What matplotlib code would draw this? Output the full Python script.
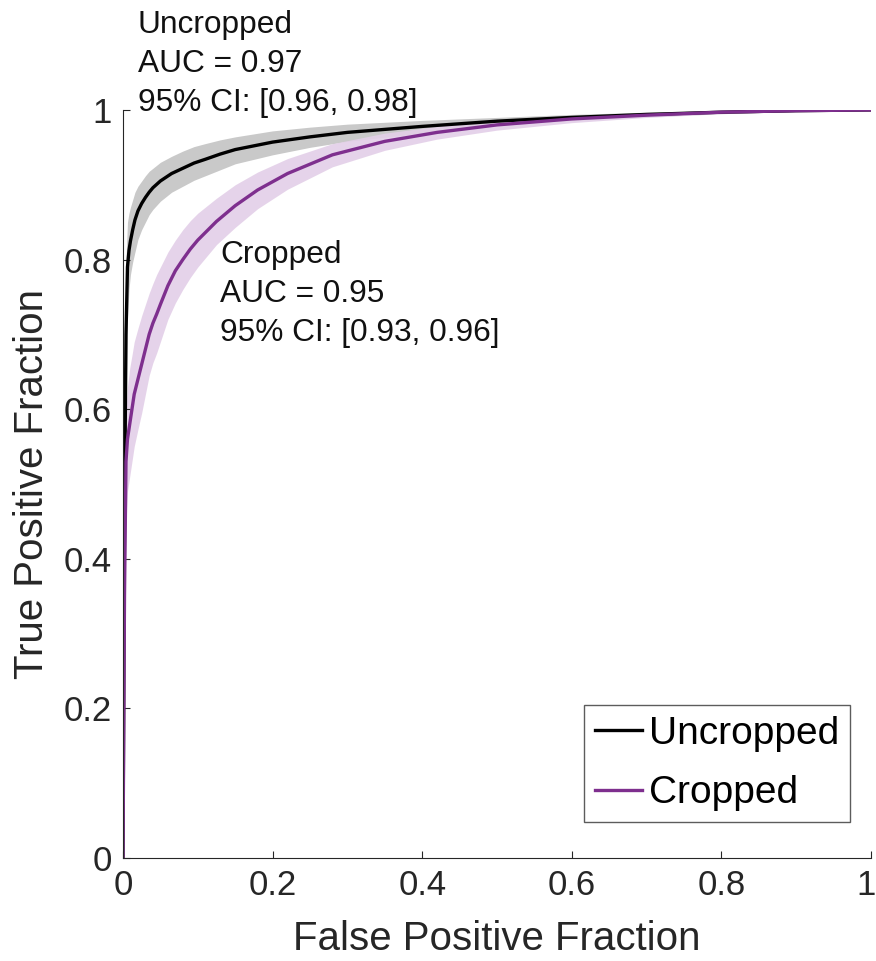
import numpy as np
import matplotlib
matplotlib.use('Agg')
import matplotlib.pyplot as plt
import matplotlib.transforms as mtransforms

plt.rcParams['font.family'] = ['Liberation Sans', 'DejaVu Sans']

# ROC curve for the uncropped images (mean curve and 95% band)
unc_fpr = [0, 0.002, 0.004, 0.006, 0.008, 0.01, 0.013, 0.016, 0.02, 0.025, 0.03, 0.035,
           0.04, 0.05, 0.065, 0.08, 0.095, 0.11, 0.13, 0.15, 0.175, 0.2, 0.25, 0.3, 0.4,
           0.5, 0.6, 0.7, 0.8, 0.9, 1.0]
unc_tpr = [0, 0.45, 0.70, 0.79, 0.812, 0.825, 0.84, 0.853, 0.865, 0.875, 0.883, 0.89,
           0.896, 0.905, 0.915, 0.922, 0.929, 0.934, 0.941, 0.947, 0.952, 0.957, 0.964,
           0.97, 0.978, 0.985, 0.99, 0.994, 0.997, 0.999, 1.0]
unc_hi = [0, 0.6, 0.8, 0.85, 0.862, 0.87, 0.88, 0.89, 0.898, 0.905, 0.912, 0.918,
          0.922, 0.93, 0.938, 0.945, 0.951, 0.955, 0.96, 0.964, 0.968, 0.972, 0.977,
          0.981, 0.986, 0.99, 0.994, 0.997, 0.999, 1.0, 1.0]
unc_lo = [0, 0.3, 0.6, 0.72, 0.76, 0.78, 0.797, 0.81, 0.827, 0.84, 0.85, 0.86,
          0.867, 0.878, 0.89, 0.898, 0.906, 0.912, 0.92, 0.928, 0.934, 0.94, 0.95,
          0.958, 0.969, 0.979, 0.986, 0.991, 0.995, 0.998, 1.0]

# ROC curve for the cropped images
crp_fpr = [0, 0.002, 0.004, 0.006, 0.009, 0.012, 0.015, 0.02, 0.025, 0.03, 0.035, 0.04,
           0.045, 0.05, 0.06, 0.07, 0.08, 0.09, 0.1, 0.125, 0.15, 0.18, 0.22, 0.28, 0.35,
           0.42, 0.5, 0.6, 0.7, 0.8, 0.9, 1.0]
crp_tpr = [0, 0.35, 0.53, 0.56, 0.58, 0.60, 0.62, 0.64, 0.66, 0.68, 0.70, 0.715,
           0.727, 0.74, 0.765, 0.785, 0.80, 0.814, 0.826, 0.851, 0.872, 0.893, 0.915,
           0.94, 0.958, 0.97, 0.98, 0.988, 0.993, 0.997, 0.999, 1.0]
crp_hi = [0, 0.45, 0.6, 0.63, 0.655, 0.672, 0.69, 0.708, 0.725, 0.74, 0.755, 0.768,
          0.78, 0.79, 0.81, 0.826, 0.84, 0.852, 0.862, 0.882, 0.9, 0.917, 0.935,
          0.955, 0.969, 0.978, 0.986, 0.992, 0.996, 0.998, 1.0, 1.0]
crp_lo = [0, 0.25, 0.45, 0.49, 0.51, 0.53, 0.55, 0.573, 0.595, 0.62, 0.645, 0.662,
          0.675, 0.69, 0.72, 0.742, 0.76, 0.776, 0.79, 0.82, 0.843, 0.868, 0.894,
          0.924, 0.946, 0.961, 0.973, 0.983, 0.99, 0.995, 0.998, 1.0]

unc_text = ['Uncropped', 'AUC = 0.97', '95% CI: [0.96, 0.98]']
crp_text = ['Cropped', 'AUC = 0.95', '95% CI: [0.93, 0.96]']

ticks = [0, 0.2, 0.4, 0.6, 0.8, 1]
tick_labels = ['0', '0.2', '0.4', '0.6', '0.8', '1']

purple = '#7E2F8E'
dark = '#262626'

fig = plt.figure(figsize=(8.76, 9.61), dpi=100)
ax = fig.add_axes([0.1404, 0.1072, 0.8539, 0.7784])

ax.fill_between(unc_fpr, unc_lo, unc_hi, color='#c9c9c9', lw=0)
ax.fill_between(crp_fpr, crp_lo, crp_hi, color='#e3cfe8', lw=0, alpha=0.9)
l1, = ax.plot(unc_fpr, unc_tpr, color='black', lw=2.4, label='Uncropped')
l2, = ax.plot(crp_fpr, crp_tpr, color=purple, lw=2.4, label='Cropped')

ax.set_xlim(0, 1)
ax.set_ylim(0, 1)
ax.set_xticks(ticks)
ax.set_xticklabels(tick_labels)
ax.set_yticks(ticks)
ax.set_yticklabels(tick_labels)
ax.tick_params(direction='in', length=5, width=0.8, colors=dark, labelsize=25, pad=8)
for s in ['top', 'right']:
    ax.spines[s].set_visible(False)
for s in ['left', 'bottom']:
    ax.spines[s].set_color(dark)
    ax.spines[s].set_linewidth(0.8)

# last x tick label sits at the figure edge, nudge it in a little
last = ax.get_xticklabels()[-1]
last.set_transform(last.get_transform() + mtransforms.ScaledTranslation(-5/100, 0, fig.dpi_scale_trans))

ax.set_xlabel('False Positive Fraction', fontsize=29, color=dark, labelpad=13)
ax.set_ylabel('True Positive Fraction', fontsize=29, color=dark, labelpad=9)

# annotations, one line at a time
dy = 0.0521
for i, line in enumerate(unc_text):
    ax.text(0.020, 1.103 - i * dy, line, fontsize=22.8, color='#111111', va='baseline')
for i, line in enumerate(crp_text):
    ax.text(0.1297, 0.795 - i * dy, line, fontsize=22.8, color='#111111', va='baseline')

leg = ax.legend(handles=[l1, l2], loc='lower right', bbox_to_anchor=(0.972, 0.048),
                fontsize=28, frameon=True, fancybox=False, handlelength=1.2,
                handletextpad=0.18, borderpad=0.28, labelspacing=0.6, borderaxespad=0)
leg.get_frame().set_edgecolor('#333333')
leg.get_frame().set_linewidth(1.0)

fig.savefig('out.png', dpi=100)
